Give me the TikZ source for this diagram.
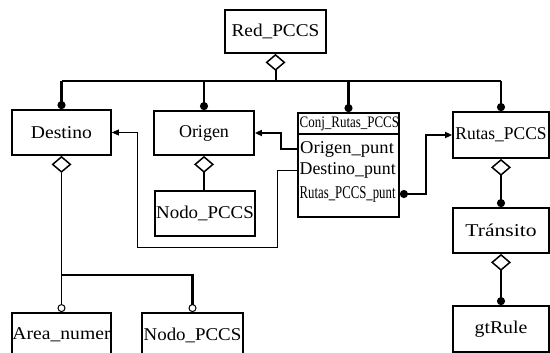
\documentclass[tikz,border=0pt]{standalone}
\usepackage{fontspec}
\setmainfont{Liberation Serif}
\usetikzlibrary{arrows.meta}
\newcommand{\hs}[2]{\scalebox{#1}[1]{#2}}
\begin{document}
\begin{tikzpicture}[x=1pt,y=-1pt,
  box/.style={draw, line width=1.8pt, rectangle, inner sep=0pt, font=\fontsize{18}{20}\selectfont},
  row/.style={inner sep=0pt, anchor=west, font=\fontsize{18}{20}\selectfont},
  smallrow/.style={row, font=\fontsize{16}{18}\selectfont},
  bus/.style={line width=2.5pt},
  drop/.style={line width=2.2pt, -{Circle[length=8pt]}},
  dia/.style={{Diamond[open,length=17pt,width=20pt,line width=1.5pt]}-},
  agg/.style={line width=2pt, {Diamond[open,length=17pt,width=20pt,line width=1.5pt]}-{Circle[length=8pt]}},
  opendot/.style={-{Circle[open,length=8pt,line width=1pt]}},
  thinc/.style={line width=0.8pt},
  thickc/.style={line width=2pt},
  tip/.style={-{Triangle[length=7pt,width=6pt]}},
]
\path[use as bounding box, fill=white] (0,0) rectangle (550,353);
\clip (0,0) rectangle (550,353);

% boxes
\node[box, minimum width=101pt, minimum height=43pt] (red) at (275.5,31.5) {\hs{1.07}{Red\_PCCS}};
\node[box, minimum width=99pt, minimum height=45pt] (destino) at (61.5,132.5) {\hs{1.09}{Destino}};
\node[box, minimum width=100pt, minimum height=44pt] (origen) at (204,133) {Origen};
\node[box, minimum width=100pt, minimum height=45pt] (nodo1) at (205,213.5) {\hs{1.05}{Nodo\_PCCS}};
\node[box, minimum width=101pt, minimum height=104pt] (conj) at (348.5,165) {};
\node[box, minimum width=96pt, minimum height=46pt] (rutas) at (501,135) {\hs{0.97}{Rutas\_PCCS}};
\node[box, minimum width=96pt, minimum height=45pt] (transito) at (501,230.5) {\hs{1.2}{Tránsito}};
\node[box, minimum width=96pt, minimum height=46pt] (gtrule) at (501,329) {\hs{1.1}{gtRule}};
\node[box, minimum width=99pt, minimum height=44pt] (area) at (61.5,335) {\hs{1.09}{Area\_numer}};
\node[box, minimum width=101pt, minimum height=44pt] (nodo2) at (192.5,335) {\hs{1.05}{Nodo\_PCCS}};

% class box contents
\node[smallrow] (hdr) at (299.5,124) {\hs{0.81}{Conj\_Rutas\_PCCS}};
\coordinate (sep) at (0,134);
\draw[line width=1.5pt] (conj.west |- sep) -- (conj.east |- sep);
\node[row] (op) at (300,149) {\hs{1.03}{Origen\_punt}};
\node[row] (dp) at (299.5,170) {\hs{0.99}{Destino\_punt}};
\node[row] (rp) at (299.5,194) {\hs{0.71}{Rutas\_PCCS\_punt}};

% top aggregation and bus
\coordinate (busy) at (0,81);
\draw[line width=2pt, dia] (red.south) -- (red.south |- busy);
\draw[bus] (destino.north |- busy) -- (rutas.north |- busy);
\foreach \n in {destino,origen,conj,rutas}
  \draw[drop] (\n.north |- busy) -- (\n.north);

% Origen -> Nodo_PCCS
\draw[thickc, dia] (origen.south) -- (origen.south |- nodo1.north);

% Rutas chain
\draw[agg] (rutas.south) -- (transito.north);
\draw[agg] (transito.south) -- (gtrule.north);

% Destino aggregation
\coordinate (dj) at (61.5,275);
\draw[thinc, dia] (destino.south) -- (dj);
\draw[thinc, opendot] (dj) -- (area.north);
\draw[line width=2.2pt, opendot] (dj) -| (nodo2.north);

% pointer links
\draw[thickc, tip] (conj.west |- op) -- ++(-16,0) |- (origen.east);
\coordinate (dbend) at (137,0);
\draw[thinc, tip] (conj.west |- dp) -| (277,247) -| (destino.east -| dbend) -- (destino.east);
\draw[thickc, {Circle[length=8pt]}-{Triangle[length=7pt,width=6pt]}] (conj.east |- rp) -- ++(26,0) |- (rutas.west);
\end{tikzpicture}
\end{document}
